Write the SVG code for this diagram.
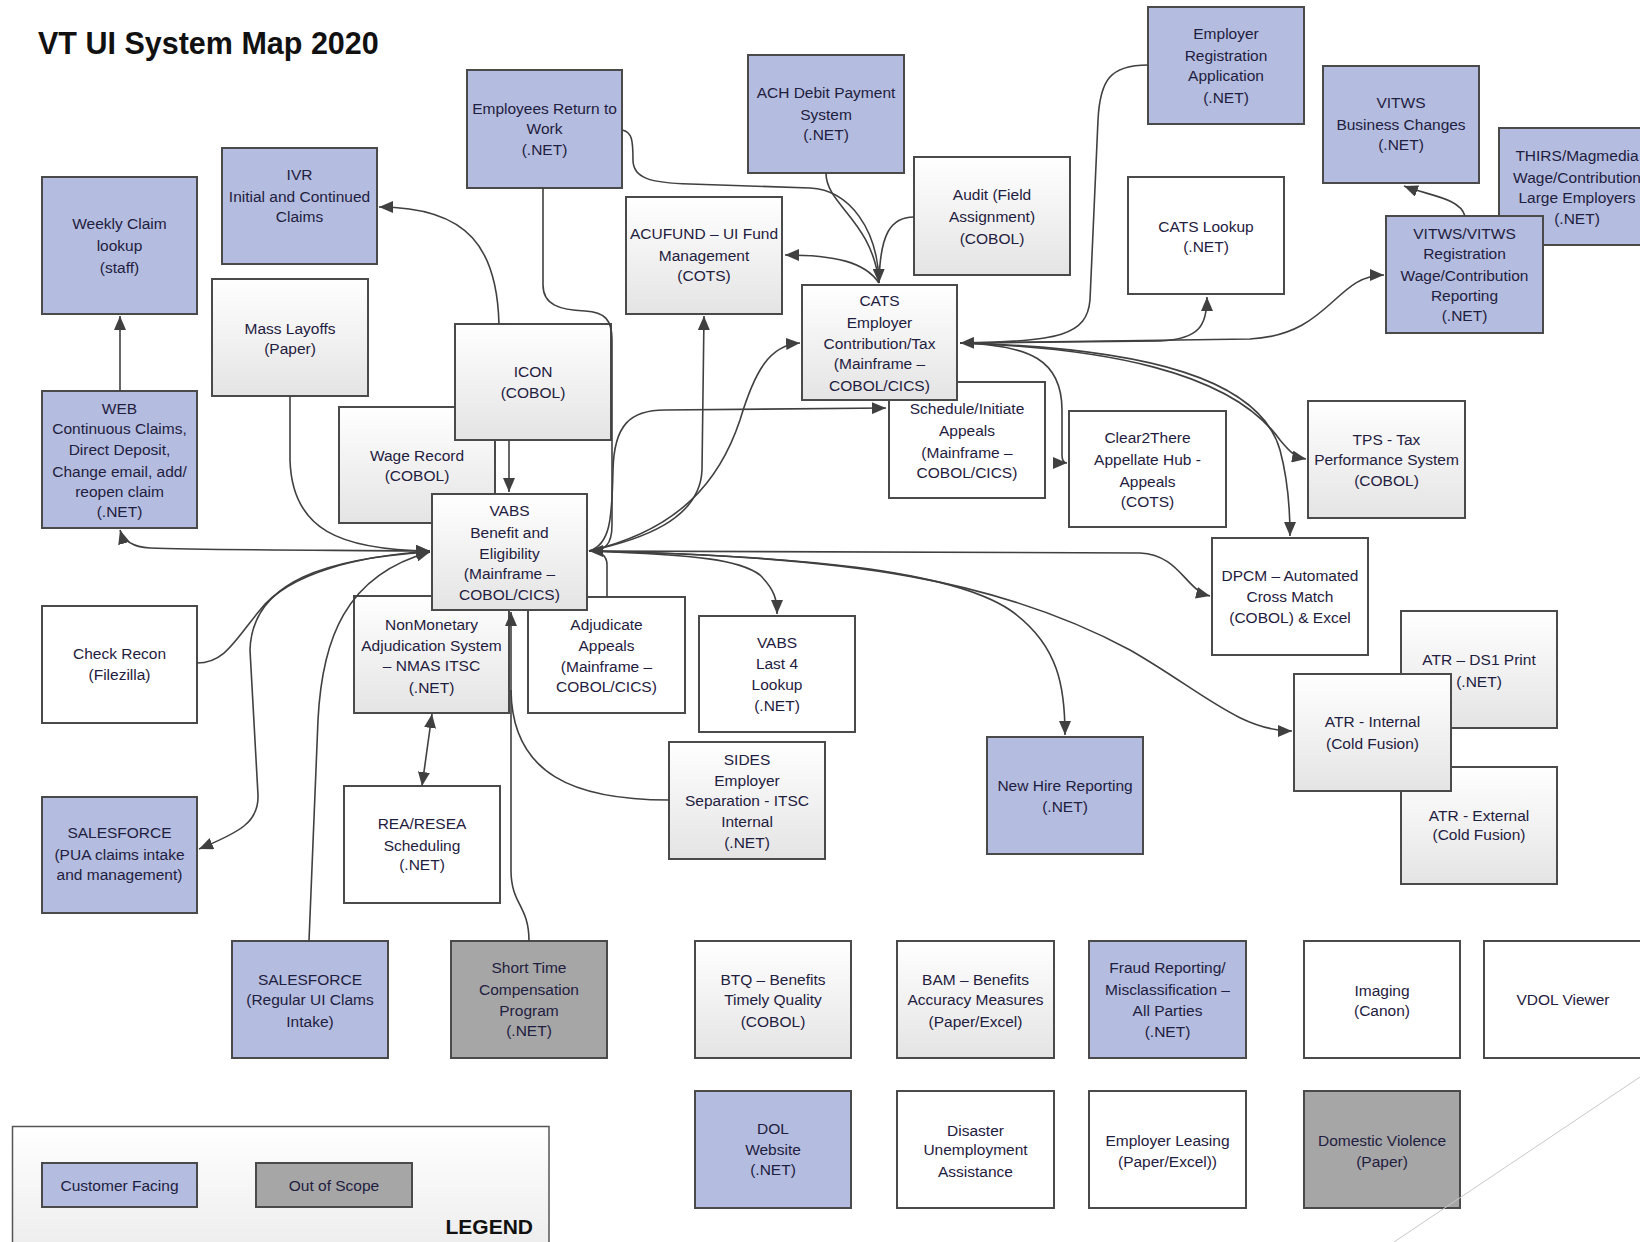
<svg xmlns="http://www.w3.org/2000/svg" width="1640" height="1242" viewBox="0 0 1640 1242">
<style>
  .box{stroke:#4a4a4a;stroke-width:2}
  .b{fill:#b4bddf}
  .g{fill:url(#grad)}
  .w{fill:#ffffff}
  .o{fill:#a6a6a6}
  .t{font-family:"Liberation Sans",Arial,sans-serif;font-size:15.5px;fill:#1f2040;text-anchor:middle}
  .c{fill:none;stroke:#404040;stroke-width:1.6}
  .title{font-family:"Liberation Sans",Arial,sans-serif;font-size:30.5px;font-weight:bold;fill:#111}
  .leg{font-family:"Liberation Sans",Arial,sans-serif;font-size:21px;font-weight:bold;fill:#111;text-anchor:end}
</style>
<defs>
  <linearGradient id="grad" x1="0" y1="0" x2="0" y2="1">
    <stop offset="0" stop-color="#ffffff"/>
    <stop offset="1" stop-color="#e4e4e4"/>
  </linearGradient>
  <linearGradient id="lgrad" x1="0" y1="0" x2="0" y2="1">
    <stop offset="0" stop-color="#ffffff"/>
    <stop offset="1" stop-color="#ececec"/>
  </linearGradient>
  <marker id="ah" viewBox="0 0 14 12" refX="14" refY="6" markerWidth="14" markerHeight="12" markerUnits="userSpaceOnUse" orient="auto-start-reverse">
    <path d="M0,0 L14,6 L0,12 z" fill="#404040"/>
  </marker>
</defs>
<rect width="1640" height="1242" fill="#ffffff"/>
<text class="title" x="38" y="54">VT UI System Map 2020</text>

<g id="legend">
  <rect x="12.5" y="1126.5" width="536.5" height="130" fill="url(#lgrad)" stroke="#555" stroke-width="1.5"/>
  <rect class="box b" x="42" y="1163" width="155" height="44"/>
  <text class="t" x="119.5" y="1190.5">Customer Facing</text>
  <rect class="box o" x="256" y="1163" width="156" height="44"/>
  <text class="t" x="334" y="1190.5">Out of Scope</text>
  <text class="leg" x="533" y="1234">LEGEND</text>
</g>

<g id="weekly"><rect class="box b" x="42" y="177" width="155" height="137"/>
<text class="t"><tspan x="119.5" y="228.5">Weekly Claim</tspan><tspan x="119.5" y="250.5">lookup</tspan><tspan x="119.5" y="272.5">(staff)</tspan></text></g>

<g id="ivr"><rect class="box b" x="222" y="148" width="155" height="116"/>
<text class="t"><tspan x="299.5" y="180">IVR</tspan><tspan x="299.5" y="201.5">Initial and Continued</tspan><tspan x="299.5" y="221.5">Claims</tspan></text></g>

<g id="erw"><rect class="box b" x="467" y="70" width="155" height="118"/>
<text class="t"><tspan x="544.5" y="113.5">Employees Return to</tspan><tspan x="544.5" y="133.5">Work</tspan><tspan x="544.5" y="154.5">(.NET)</tspan></text></g>

<g id="ach"><rect class="box b" x="748" y="55" width="156" height="118"/>
<text class="t"><tspan x="826" y="97.5">ACH Debit Payment</tspan><tspan x="826" y="119.5">System</tspan><tspan x="826" y="139.5">(.NET)</tspan></text></g>

<g id="empreg"><rect class="box b" x="1148" y="7" width="156" height="117"/>
<text class="t"><tspan x="1226" y="38.5">Employer</tspan><tspan x="1226" y="60.5">Registration</tspan><tspan x="1226" y="80.5">Application</tspan><tspan x="1226" y="102.5">(.NET)</tspan></text></g>

<g id="vitwsbc"><rect class="box b" x="1323" y="66" width="156" height="117"/>
<text class="t"><tspan x="1401" y="107.5">VITWS</tspan><tspan x="1401" y="129.5">Business Changes</tspan><tspan x="1401" y="149.5">(.NET)</tspan></text></g>

<g id="thirs"><rect class="box b" x="1499" y="128" width="156" height="117"/>
<text class="t"><tspan x="1577" y="160.5">THIRS/Magmedia</tspan><tspan x="1577" y="182.5">Wage/Contribution</tspan><tspan x="1577" y="202.5">Large Employers</tspan><tspan x="1577" y="223.5">(.NET)</tspan></text></g>

<g id="audit"><rect class="box g" x="914" y="157" width="156" height="118"/>
<text class="t"><tspan x="992" y="199.5">Audit (Field</tspan><tspan x="992" y="221.5">Assignment)</tspan><tspan x="992" y="243.5">(COBOL)</tspan></text></g>

<g id="acufund"><rect class="box g" x="626" y="197" width="156" height="117"/>
<text class="t"><tspan x="704" y="238.5">ACUFUND – UI Fund</tspan><tspan x="704" y="260.5">Management</tspan><tspan x="704" y="280.5">(COTS)</tspan></text></g>

<g id="catslookup"><rect class="box w" x="1128" y="177" width="156" height="117"/>
<text class="t"><tspan x="1206" y="231.5">CATS Lookup</tspan><tspan x="1206" y="251.5">(.NET)</tspan></text></g>

<g id="vitwsreg"><rect class="box b" x="1386" y="216" width="157" height="117"/>
<text class="t"><tspan x="1464.5" y="238.5">VITWS/VITWS</tspan><tspan x="1464.5" y="258.5">Registration</tspan><tspan x="1464.5" y="280.5">Wage/Contribution</tspan><tspan x="1464.5" y="300.5">Reporting</tspan><tspan x="1464.5" y="320.5">(.NET)</tspan></text></g>

<g id="mass"><rect class="box g" x="212" y="279" width="156" height="117"/>
<text class="t"><tspan x="290" y="333.5">Mass Layoffs</tspan><tspan x="290" y="353.5">(Paper)</tspan></text></g>

<g id="wage"><rect class="box g" x="339" y="407" width="156" height="116"/>
<text class="t"><tspan x="417" y="460.5">Wage Record</tspan><tspan x="417" y="480.5">(COBOL)</tspan></text></g>

<g id="icon"><rect class="box g" x="455" y="324" width="156" height="116"/>
<text class="t"><tspan x="533" y="376.5">ICON</tspan><tspan x="533" y="397.5">(COBOL)</tspan></text></g>

<g id="schedule"><rect class="box w" x="889" y="382" width="156" height="116"/>
<text class="t"><tspan x="967" y="413.5">Schedule/Initiate</tspan><tspan x="967" y="435.5">Appeals</tspan><tspan x="967" y="457.5">(Mainframe –</tspan><tspan x="967" y="477.5">COBOL/CICS)</tspan></text></g>

<g id="cats"><rect class="box g" x="802" y="285" width="155" height="115"/>
<text class="t"><tspan x="879.5" y="305.5">CATS</tspan><tspan x="879.5" y="327.5">Employer</tspan><tspan x="879.5" y="348.5">Contribution/Tax</tspan><tspan x="879.5" y="368.5">(Mainframe –</tspan><tspan x="879.5" y="390.5">COBOL/CICS)</tspan></text></g>

<g id="web"><rect class="box b" x="42" y="391" width="155" height="137"/>
<text class="t"><tspan x="119.5" y="413.5">WEB</tspan><tspan x="119.5" y="433.5">Continuous Claims,</tspan><tspan x="119.5" y="454.5">Direct Deposit,</tspan><tspan x="119.5" y="476.5">Change email, add/</tspan><tspan x="119.5" y="496.5">reopen claim</tspan><tspan x="119.5" y="516.5">(.NET)</tspan></text></g>

<g id="clear2there"><rect class="box w" x="1069" y="411" width="157" height="116"/>
<text class="t"><tspan x="1147.5" y="442.5">Clear2There</tspan><tspan x="1147.5" y="464.5">Appellate Hub -</tspan><tspan x="1147.5" y="486.5">Appeals</tspan><tspan x="1147.5" y="506.5">(COTS)</tspan></text></g>

<g id="tps"><rect class="box g" x="1308" y="401" width="157" height="117"/>
<text class="t"><tspan x="1386.5" y="444.5">TPS - Tax</tspan><tspan x="1386.5" y="464.5">Performance System</tspan><tspan x="1386.5" y="485.5">(COBOL)</tspan></text></g>

<g id="nonmon"><rect class="box g" x="354" y="596" width="155" height="117"/>
<text class="t"><tspan x="431.5" y="629.5">NonMonetary</tspan><tspan x="431.5" y="650.5">Adjudication System</tspan><tspan x="431.5" y="670.5">– NMAS  ITSC</tspan><tspan x="431.5" y="692.5">(.NET)</tspan></text></g>

<g id="adjudicate"><rect class="box w" x="528" y="597" width="157" height="116"/>
<text class="t"><tspan x="606.5" y="629.5">Adjudicate</tspan><tspan x="606.5" y="650.5">Appeals</tspan><tspan x="606.5" y="671.5">(Mainframe –</tspan><tspan x="606.5" y="691.5">COBOL/CICS)</tspan></text></g>

<g id="vabs"><rect class="box g" x="432" y="494" width="155" height="116"/>
<text class="t"><tspan x="509.5" y="515.5">VABS</tspan><tspan x="509.5" y="537.5">Benefit and</tspan><tspan x="509.5" y="558.5">Eligibility</tspan><tspan x="509.5" y="578.5">(Mainframe –</tspan><tspan x="509.5" y="599.5">COBOL/CICS)</tspan></text></g>

<g id="dpcm"><rect class="box w" x="1212" y="538" width="156" height="117"/>
<text class="t"><tspan x="1290" y="580.5">DPCM – Automated</tspan><tspan x="1290" y="601.5">Cross Match</tspan><tspan x="1290" y="622.5">(COBOL) &amp; Excel</tspan></text></g>

<g id="checkrecon"><rect class="box w" x="42" y="606" width="155" height="117"/>
<text class="t"><tspan x="119.5" y="658.5">Check Recon</tspan><tspan x="119.5" y="679.5">(Filezilla)</tspan></text></g>

<g id="last4"><rect class="box w" x="699" y="616" width="156" height="116"/>
<text class="t"><tspan x="777" y="647.5">VABS</tspan><tspan x="777" y="668.5">Last 4</tspan><tspan x="777" y="689.5">Lookup</tspan><tspan x="777" y="710.5">(.NET)</tspan></text></g>

<g id="atrds1"><rect class="box g" x="1401" y="611" width="156" height="117"/>
<text class="t"><tspan x="1479" y="664.5">ATR – DS1 Print</tspan><tspan x="1479" y="686.5">(.NET)</tspan></text></g>

<g id="atrext"><rect class="box g" x="1401" y="767" width="156" height="117"/>
<text class="t"><tspan x="1479" y="820.5">ATR - External</tspan><tspan x="1479" y="839.5">(Cold Fusion)</tspan></text></g>

<g id="atrint"><rect class="box g" x="1294" y="674" width="157" height="117"/>
<text class="t"><tspan x="1372.5" y="726.5">ATR - Internal</tspan><tspan x="1372.5" y="748.5">(Cold Fusion)</tspan></text></g>

<g id="newhire"><rect class="box b" x="987" y="737" width="156" height="117"/>
<text class="t"><tspan x="1065" y="790.5">New Hire Reporting</tspan><tspan x="1065" y="811.5">(.NET)</tspan></text></g>

<g id="sides"><rect class="box g" x="669" y="742" width="156" height="117"/>
<text class="t"><tspan x="747" y="764.5">SIDES</tspan><tspan x="747" y="785.5">Employer</tspan><tspan x="747" y="805.5">Separation - ITSC</tspan><tspan x="747" y="826.5">Internal</tspan><tspan x="747" y="847.5">(.NET)</tspan></text></g>

<g id="pua"><rect class="box b" x="42" y="797" width="155" height="116"/>
<text class="t"><tspan x="119.5" y="837.5">SALESFORCE</tspan><tspan x="119.5" y="859.5">(PUA claims intake</tspan><tspan x="119.5" y="879.5">and management)</tspan></text></g>

<g id="rea"><rect class="box w" x="344" y="786" width="156" height="117"/>
<text class="t"><tspan x="422" y="828.5">REA/RESEA</tspan><tspan x="422" y="850.5">Scheduling</tspan><tspan x="422" y="869.5">(.NET)</tspan></text></g>

<g id="sfregular"><rect class="box b" x="232" y="941" width="156" height="117"/>
<text class="t"><tspan x="310" y="984.5">SALESFORCE</tspan><tspan x="310" y="1004.5">(Regular UI Clams</tspan><tspan x="310" y="1026.5">Intake)</tspan></text></g>

<g id="shorttime"><rect class="box o" x="451" y="941" width="156" height="117"/>
<text class="t"><tspan x="529" y="972.5">Short Time</tspan><tspan x="529" y="994.5">Compensation</tspan><tspan x="529" y="1015.5">Program</tspan><tspan x="529" y="1035.5">(.NET)</tspan></text></g>

<g id="btq"><rect class="box g" x="695" y="941" width="156" height="117"/>
<text class="t"><tspan x="773" y="984.5">BTQ – Benefits</tspan><tspan x="773" y="1004.5">Timely Quality</tspan><tspan x="773" y="1026.5">(COBOL)</tspan></text></g>

<g id="bam"><rect class="box g" x="897" y="941" width="157" height="117"/>
<text class="t"><tspan x="975.5" y="984.5">BAM – Benefits</tspan><tspan x="975.5" y="1004.5">Accuracy Measures</tspan><tspan x="975.5" y="1026.5">(Paper/Excel)</tspan></text></g>

<g id="fraud"><rect class="box b" x="1089" y="941" width="157" height="117"/>
<text class="t"><tspan x="1167.5" y="972.5">Fraud Reporting/</tspan><tspan x="1167.5" y="994.5">Misclassification –</tspan><tspan x="1167.5" y="1015.5">All Parties</tspan><tspan x="1167.5" y="1036.5">(.NET)</tspan></text></g>

<g id="imaging"><rect class="box w" x="1304" y="941" width="156" height="117"/>
<text class="t"><tspan x="1382" y="995.5">Imaging</tspan><tspan x="1382" y="1015.5">(Canon)</tspan></text></g>

<g id="vdol"><rect class="box w" x="1484" y="941" width="160" height="117"/>
<text class="t"><tspan x="1563" y="1004.5">VDOL Viewer</tspan></text></g>

<g id="dol"><rect class="box b" x="695" y="1091" width="156" height="117"/>
<text class="t"><tspan x="773" y="1133.5">DOL</tspan><tspan x="773" y="1154.5">Website</tspan><tspan x="773" y="1174.5">(.NET)</tspan></text></g>

<g id="disaster"><rect class="box w" x="897" y="1091" width="157" height="117"/>
<text class="t"><tspan x="975.5" y="1135.5">Disaster</tspan><tspan x="975.5" y="1154.5">Unemployment</tspan><tspan x="975.5" y="1176.5">Assistance</tspan></text></g>

<g id="leasing"><rect class="box w" x="1089" y="1091" width="157" height="117"/>
<text class="t"><tspan x="1167.5" y="1145.5">Employer Leasing</tspan><tspan x="1167.5" y="1166.5">(Paper/Excel))</tspan></text></g>

<g id="domestic"><rect class="box o" x="1304" y="1091" width="156" height="117"/>
<text class="t"><tspan x="1382" y="1145.5">Domestic Violence</tspan><tspan x="1382" y="1166.5">(Paper)</tspan></text></g>

<line x1="1640" y1="1077" x2="1394" y2="1242" stroke="#c8c8c8" stroke-width="1"/>

<g id="connectors">
  <path class="c" d="M120,391 L120,316" marker-end="url(#ah)"/>
  <path class="c" d="M290,396 L290,460 C292,530 340,550 430,551" marker-end="url(#ah)"/>
  <path class="c" d="M430,551 C300,550 200,550 150,548 C132,547 123,540 120,530" marker-start="url(#ah)" marker-end="url(#ah)"/>
  <path class="c" d="M197,663 C225,663 235,640 260,610 C290,572 360,556 430,551" marker-end="url(#ah)"/>
  <path class="c" d="M430,552 C330,558 252,580 250,650 L258,795 C259,822 240,832 199,849" marker-end="url(#ah)"/>
  <path class="c" d="M309,941 L318,720 C322,640 345,575 430,552" marker-end="url(#ah)"/>
  <path class="c" d="M422,786 L432,714" marker-start="url(#ah)" marker-end="url(#ah)"/>
  <path class="c" d="M529,941 C529,905 511,905 511,870 L511,612" marker-end="url(#ah)"/>
  <path class="c" d="M669,800 C575,800 512,775 511,690"/>
  <path class="c" d="M509,440 L509,492" marker-end="url(#ah)"/>
  <path class="c" d="M499,324 C497,250 470,207 379,207" marker-end="url(#ah)"/>
  <path class="c" d="M543,188 L543,285 C543,305 560,310 585,311 C605,312 612,320 612,340 L612,525 C612,545 605,551 589,551" marker-end="url(#ah)"/>
  <path class="c" d="M622,130 C632,132 633,140 633,160 C633,178 650,183 690,184 L810,188 C850,190 878,230 879,283" marker-end="url(#ah)"/>
  <path class="c" d="M826,173 C826,205 872,220 879,283"/>
  <path class="c" d="M914,217 C890,217 880,235 879,283"/>
  <path class="c" d="M879,283 C865,262 835,255 785,255" marker-end="url(#ah)"/>
  <path class="c" d="M589,551 C640,540 700,520 702,470 L704,316" marker-end="url(#ah)"/>
  <path class="c" d="M589,551 C680,530 720,480 740,420 C755,370 770,345 800,343" marker-end="url(#ah)"/>
  <path class="c" d="M607,597 L607,565 C607,555 600,551 589,551"/>
  <path class="c" d="M589,551 C610,545 612,520 613,470 C614,425 630,410 665,410 L886,408" marker-end="url(#ah)"/>
  <path class="c" d="M589,551 C700,555 740,560 760,575 C775,590 777,600 777,614" marker-end="url(#ah)"/>
  <path class="c" d="M589,551 C800,556 950,570 1010,610 C1060,645 1065,690 1065,735" marker-end="url(#ah)"/>
  <path class="c" d="M589,551 C850,556 1000,580 1130,650 C1200,690 1240,731 1292,731" marker-end="url(#ah)"/>
  <path class="c" d="M589,551 L1140,553 C1180,555 1185,590 1210,596" marker-end="url(#ah)"/>
  <path class="c" d="M1148,65 C1110,65 1100,80 1098,120 L1090,300 C1087,335 1060,342 960,343" marker-end="url(#ah)"/>
  <path class="c" d="M960,343 L1160,341 C1200,339 1207,325 1207,297" marker-end="url(#ah)"/>
  <path class="c" d="M960,343 L1250,339 C1330,335 1335,275 1384,275" marker-end="url(#ah)"/>
  <path class="c" d="M960,343 C1030,345 1062,360 1062,410 L1062,455 C1062,462 1065,463 1067,463" marker-end="url(#ah)"/>
  <path class="c" d="M960,343 C1100,348 1230,370 1280,440 C1290,452 1295,457 1306,459" marker-end="url(#ah)"/>
  <path class="c" d="M960,343 C1150,348 1260,380 1280,450 C1288,480 1290,510 1290,536" marker-end="url(#ah)"/>
  <path class="c" d="M1465,216 C1460,198 1430,196 1404,186" marker-end="url(#ah)"/>
</g>
</svg>
